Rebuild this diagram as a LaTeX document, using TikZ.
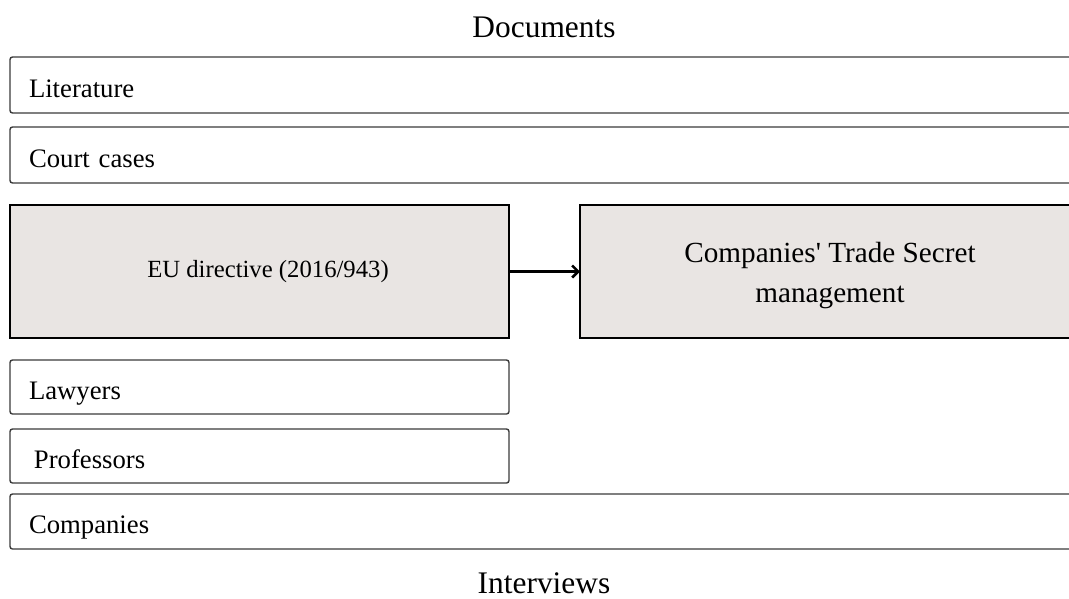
\documentclass[tikz,border=0pt]{standalone}
\usepackage{fontspec}
\setmainfont{Liberation Serif}
\usetikzlibrary{arrows.meta}
\definecolor{boxgray}{HTML}{E9E5E3}
\definecolor{edgegray}{HTML}{3A3A3A}
\tikzset{
  sbox/.style={draw=edgegray, line width=1.4pt, rounded corners=2.5pt, anchor=north west,
    inner sep=0pt, outer sep=0pt, align=left, text height=24pt, text depth=0pt,
    font=\fontsize{26.7}{30}\selectfont},
  bbox/.style={draw=black, line width=2.4pt, fill=boxgray, anchor=north west,
    inner sep=0pt, outer sep=0pt, align=center},
  heading/.style={font=\fontsize{31.4}{36}\selectfont, inner sep=0pt},
  conn/.style={draw=black, line width=2.6pt, -{Straight Barb[length=6pt,width=12pt,line width=2.6pt]}}
}
\begin{document}
\begin{tikzpicture}[x=1pt,y=-1pt]
\path[use as bounding box, clip] (0,0) rectangle (1069,598);
\node[heading, anchor=base] (doc) at (544,37) {Documents};
\node[heading, anchor=base] (int) at (544,593) {Interviews};
\node[sbox, minimum width=1080pt, minimum height=56pt, text width=1080pt] (lit) at (10,57) {\hspace*{19pt}Literature};
\node[sbox, minimum width=1080pt, minimum height=56pt, text width=1080pt] (court) at (10,127) {\hspace*{19pt}Court cases};
\node[bbox, minimum width=499pt, minimum height=133pt, font=\fontsize{24.7}{30}\selectfont] (eu) at (10,205) {\hspace*{17pt}EU directive (2016/943)};
\node[bbox, minimum width=500pt, minimum height=133pt, text height=61pt, text depth=0pt, font=\fontsize{29.2}{40}\selectfont] (ts) at (580,205) {Companies\textquotesingle\ Trade Secret\\management};
\node[sbox, minimum width=499pt, minimum height=54pt, text width=499pt] (law) at (10,360) {\hspace*{19pt}Lawyers};
\node[sbox, minimum width=499pt, minimum height=54pt, text width=499pt] (prof) at (10,429) {\hspace*{24pt}Professors};
\node[sbox, minimum width=1080pt, minimum height=55pt, text width=1080pt] (comp) at (10,494) {\hspace*{19pt}Companies};
\draw[conn] (eu.east) -- (ts.west);
\end{tikzpicture}
\end{document}
